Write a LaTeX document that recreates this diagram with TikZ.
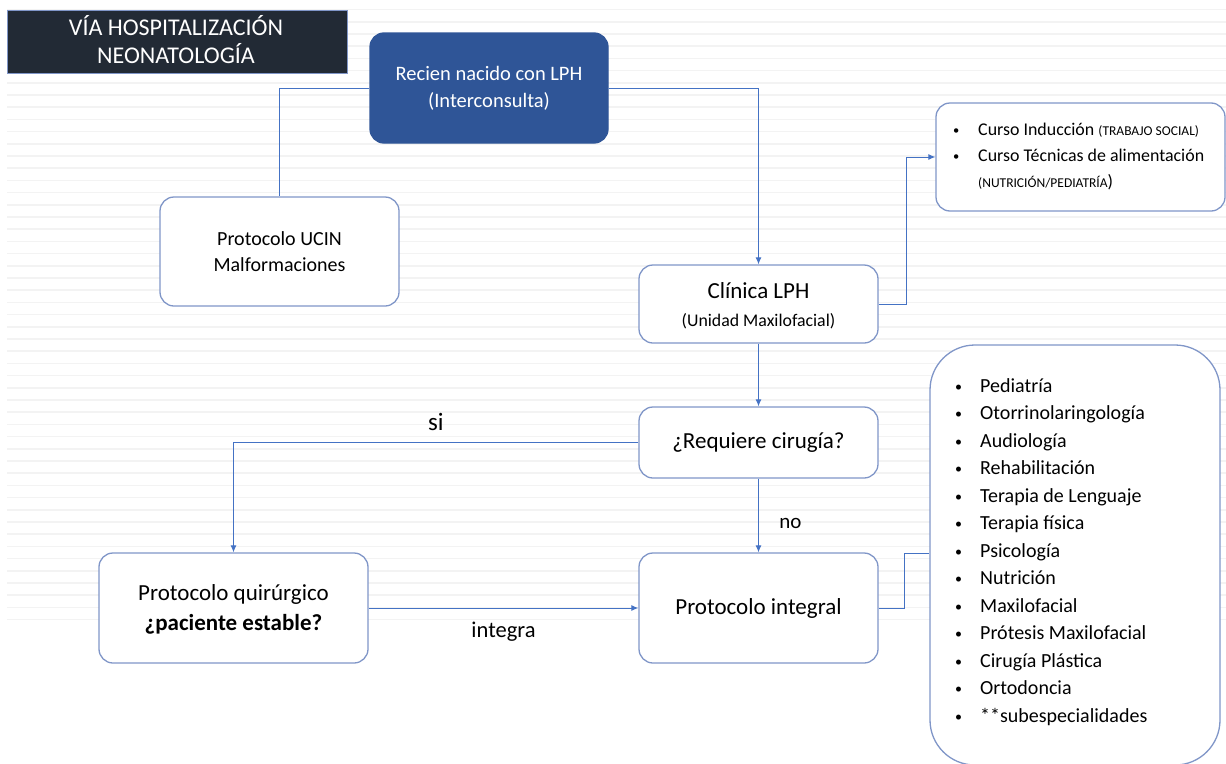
\documentclass[tikz,border=0pt]{standalone}
\usepackage{fontspec}
\setmainfont{Carlito}
\usepackage{tikz}
\usetikzlibrary{positioning, arrows.meta, calc}
\definecolor{titulogris}{RGB}{34,42,53}
\definecolor{azulnodo}{RGB}{47,85,151}
\definecolor{bordeazul}{RGB}{128,150,200}
\definecolor{lineaazul}{RGB}{68,114,196}
\definecolor{franjagris}{RGB}{243,243,243}
\newcommand{\vineta}{\makebox[25pt][l]{\raisebox{1.2pt}{\scalebox{0.7}{\textbullet}}}}

\begin{document}
\begin{tikzpicture}[x=1pt,y=-1pt,
    caja/.style={rectangle,rounded corners=14pt,draw=bordeazul,line width=1.3pt,fill=white},
    texto/.style={font=\fontsize{23}{28}\selectfont,align=center},
    flecha/.style={draw=lineaazul,line width=1pt,-{Latex[length=7pt,width=6pt]}},
    linea/.style={draw=lineaazul,line width=1pt}]
    \useasboundingbox (0,0) rectangle (1226,763);
    \clip (0,0) rectangle (1226,763);

    % Fondo a rayas
    \foreach \k in {0,...,50}
        \draw[franjagris,line width=1.6pt] (7,9.5+12.2*\k) -- (1226,9.5+12.2*\k);

    % Titulo
    \node[rectangle,fill=titulogris,draw=bordeazul,line width=0.6pt,minimum width=340pt,minimum height=63pt] (titulo) at (177,41.5) {};
    \node[texto,text=white,font=\fontsize{24}{28}\selectfont] (titulotxt) at (176,40) {VÍA HOSPITALIZACIÓN\\NEONATOLOGÍA};

    % Nodo inicial
    \node[caja,fill=azulnodo,draw=azulnodo,minimum width=238pt,minimum height=110pt] (recien) at (489,88) {};
    \node[texto,text=white,font=\fontsize{20.5}{27}\selectfont] (recientxt) at (recien) {Recien nacido con LPH\\(Interconsulta)};

    % Protocolo UCIN
    \node[caja,minimum width=239pt,minimum height=109pt] (ucin) at (279.5,251.5) {};
    \node[texto,font=\fontsize{20}{26}\selectfont] (ucintxt) at (ucin) {Protocolo UCIN\\Malformaciones};

    % Clinica LPH
    \node[caja,minimum width=239pt,minimum height=78pt] (clinica) at (758.5,304) {};
    \node[texto] (clinicatxt) at (758.5,306) {Clínica LPH\\{\fontsize{17.8}{21}\selectfont(Unidad Maxilofacial)}};

    % Cursos
    \node[caja,minimum width=289pt,minimum height=108pt] (cursos) at (1080.5,157) {};
    \node[anchor=west,align=left,inner sep=0pt,font=\fontsize{17.9}{26}\selectfont] (cursostxt) at (953,157) {
        \vineta Curso Inducción {\fontsize{13.5}{15}\selectfont(TRABAJO SOCIAL)}\\
        \vineta Curso Técnicas de alimentación\\
        \hspace*{25pt}{\fontsize{13.5}{15}\selectfont(NUTRICIÓN/PEDIATRÍA}){}
    };

    % Decision
    \node[caja,minimum width=239pt,minimum height=71pt] (requiere) at (758.5,442.5) {};
    \node[texto] (requieretxt) at (requiere) {¿Requiere cirugía?};

    % Protocolo quirurgico
    \node[caja,minimum width=269pt,minimum height=110pt] (quirurgico) at (233.5,608) {};
    \node[texto,font=\fontsize{23}{30}\selectfont] (quirurgicotxt) at (233.5,609) {Protocolo quirúrgico\\\textbf{¿paciente estable?}};

    % Protocolo integral
    \node[caja,minimum width=239pt,minimum height=110pt] (integral) at (758.5,608) {};
    \node[texto] (integraltxt) at (integral) {Protocolo integral};

    % Especialidades
    \node[caja,rounded corners=45pt,minimum width=290pt,minimum height=420pt] (especialidades) at (1075,555) {};
    \node[anchor=west,align=left,inner sep=0pt,font=\fontsize{20}{27.5}\selectfont] (especialidadestxt) at (955,552) {
        \vineta Pediatría\\
        \vineta Otorrinolaringología\\
        \vineta Audiología\\
        \vineta Rehabilitación\\
        \vineta Terapia de Lenguaje\\
        \vineta Terapia física\\
        \vineta Psicología\\
        \vineta Nutrición\\
        \vineta Maxilofacial\\
        \vineta Prótesis Maxilofacial\\
        \vineta Cirugía Plástica\\
        \vineta Ortodoncia\\
        \vineta **subespecialidades
    };

    % Conectores
    \draw[linea] (recien.west) -| (ucin.north);
    \draw[flecha] (recien.east) -| (clinica.north);
    \draw[flecha] (clinica.east) -- ++(28,0) |- (cursos.west);
    \draw[flecha] (clinica.south) -- (requiere.north);
    \draw[flecha] (requiere.west) -| node[pos=0.25,above=8pt,font=\fontsize{25}{28}\selectfont] (si) {si} (quirurgico.north);
    \draw[flecha] (requiere.south) -- node[pos=0.61,right=17pt,font=\fontsize{21}{25}\selectfont] (no) {no} (integral.north);
    \draw[flecha] (quirurgico.east) -- node[below=10pt,font=\fontsize{22.5}{25}\selectfont] (integra) {integra} (integral.west);
    \draw[linea] (integral.east) -- ++(26,0) |- ([yshift=2pt]especialidades.west);
\end{tikzpicture}
\end{document}
